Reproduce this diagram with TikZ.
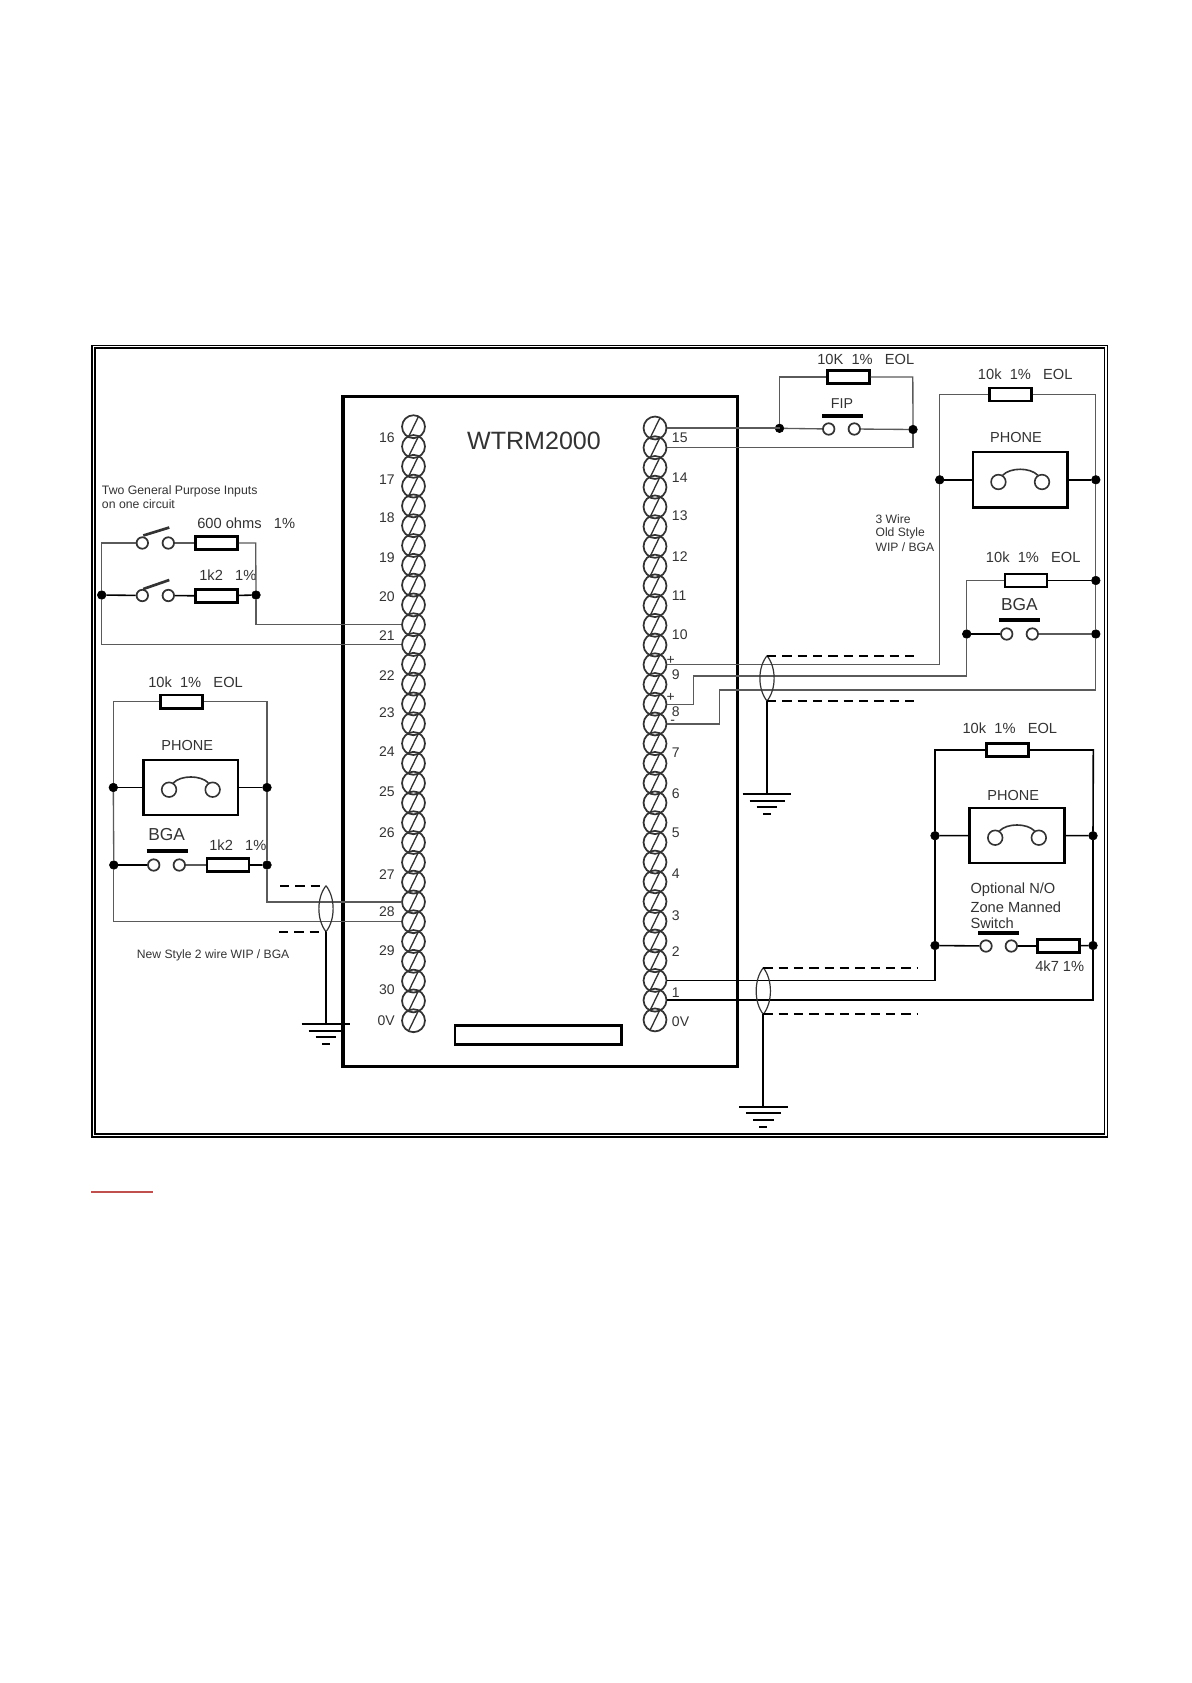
\documentclass[tikz,border=0pt]{standalone}
\usepackage{fontspec}
\setmainfont{Liberation Sans}
\usetikzlibrary{calc}
\definecolor{ink}{HTML}{333333}
\definecolor{wiregray}{HTML}{5A5A5A}
\definecolor{redline}{HTML}{C0504D}
\tikzset{
  wire/.style={draw=wiregray,line width=1pt},
  wireb/.style={draw=black,line width=1.2pt},
  heavy/.style={draw=black,line width=1.5pt},
  dashline/.style={draw=black,line width=1.3pt,dash pattern=on 7pt off 4.5pt},
  lensline/.style={draw=ink,line width=0.9pt},
  gndbar/.style={draw=black,line width=1.5pt},
  res/.style={draw=black,fill=white,line width=1.9pt,minimum width=31.5pt,minimum height=10pt,inner sep=0pt},
  box/.style={draw=black,line width=1.9pt,minimum width=71pt,minimum height=41.5pt,inner sep=0pt},
  dot/.style={circle,fill=black,draw=black,minimum size=6.5pt,inner sep=0pt},
  contact/.style={circle,draw=ink,fill=white,line width=1.3pt,minimum size=8.6pt,inner sep=0pt},
  phonec/.style={circle,draw=ink,line width=1.2pt,minimum size=11pt,inner sep=0pt},
  bar/.style={draw=black,line width=2.8pt},
  lever/.style={draw=ink,line width=2pt},
  screw/.style={circle,draw=ink,line width=1.3pt,minimum size=17.2pt,inner sep=0pt},
  slash/.style={draw=ink,line width=1pt},
  txt/.style={inner sep=0pt,text=ink,font=\fontsize{11}{12}\selectfont},
  small/.style={inner sep=0pt,text=ink,font=\fontsize{9.1}{10}\selectfont},
  num/.style={inner sep=0pt,text=ink,font=\fontsize{10.5}{12}\selectfont},
  big/.style={inner sep=0pt,text=ink,font=\fontsize{13}{14}\selectfont},
}
\newcommand{\lensat}[2]{%
  \draw[lensline] (#1) .. controls ($(#1)+(-9.5,12)$) and ($(#2)+(-9.5,-12)$) .. (#2)
    .. controls ($(#2)+(9.5,-12)$) and ($(#1)+(9.5,12)$) .. (#1);}
\newcommand{\gndat}[1]{%
  \draw[gndbar] ($(#1)+(-24.3,0)$) -- ($(#1)+(24.3,0)$);
  \draw[gndbar] ($(#1)+(-17.5,6.4)$) -- ($(#1)+(17.5,6.4)$);
  \draw[gndbar] ($(#1)+(-10.3,13)$) -- ($(#1)+(10.3,13)$);
  \draw[gndbar] ($(#1)+(-4,19.8)$) -- ($(#1)+(4,19.8)$);}
\newcommand{\phonesym}[1]{%
  \node[phonec] (#1a) at ($(#1)+(-21.8,2.2)$) {};
  \node[phonec] (#1b) at ($(#1)+(21.8,2.2)$) {};
  \draw[draw=ink,line width=1.2pt] ($(#1)+(-17.5,-4.6)$) .. controls ($(#1)+(-10,-12.5)$) and ($(#1)+(10,-12.5)$) .. ($(#1)+(17.5,-4.6)$);}
\begin{document}
\begin{tikzpicture}[x=0.75pt,y=-0.75pt]
\useasboundingbox (0,0) rectangle (1191,1683);
% frame
\coordinate (fo1) at (91.7,345.4); \coordinate (fo2) at (1107.3,1136.9);
\coordinate (fi1) at (94.8,348.2); \coordinate (fi2) at (1104.3,1133.9);
\draw[black,line width=1.2pt] (fo1) rectangle (fo2);
\draw[black,line width=1.1pt] (fi1) rectangle (fi2);
% module
\node[draw=black,line width=2.3pt,minimum width=295.7pt,minimum height=502.5pt,inner sep=0pt] (wtrm) at (540.15,731.7) {};
\node[inner sep=0pt,text=ink,font=\fontsize{18.8}{22}\selectfont] (title) at (534,441) {WTRM2000};
\node[draw=black,line width=2pt,minimum width=125pt,minimum height=13.9pt,inner sep=0pt] (slot) at (538.25,1035) {};
% terminals
\foreach \i in {0,...,30}{
  \node[screw] (L\i) at (413.5,{426.7+19.8*\i}) {};
  \draw[slash] ($(L\i)+(-5,10.3)$) -- ($(L\i)+(5,-10.3)$);
  \node[screw] (R\i) at (655,{428+19.73*\i}) {};
  \draw[slash] ($(R\i)+(-5,10.3)$) -- ($(R\i)+(5,-10.3)$);
}
\foreach \t/\y in {16/438,17/480,18/518,19/557.7,20/596.7,21/636,22/676,23/712.7,24/751.7,25/792,26/832.7,27/875,28/912,29/950.7,30/990,0V/1020.7}{
  \node[num,anchor=east] (ln\t) at (395,\y) {\t};
}
\foreach \t/\y in {15/438,14/477.7,13/515.7,12/556.7,11/595.7,10/635,9/675,8/712,7/753,6/794,5/832.7,4/874,3/915.7,2/951.7,1/993,0V/1021.7}{
  \node[num,anchor=west] (rn\t) at (671.7,\y) {\t};
}
\node[num] (plusnine) at (670.7,660.7) {+};
\node[num] (pluseight) at (670.7,697.7) {+};
\node[num] (minuseight) at (672.7,722) {-};

% ---- two general purpose inputs
\node[small,anchor=west,font=\fontsize{9.2}{10}\selectfont] (gp1) at (101.7,491) {Two General Purpose Inputs};
\node[small,anchor=west,font=\fontsize{9.2}{10}\selectfont] (gp2) at (101.7,504) {on one circuit};
\node[txt,anchor=west] (gp3) at (197,523) {600 ohms~~~1\%};
\node[txt,anchor=west] (gp4) at (199,575.7) {1k2~~~1\%};
\node[dot] (gj1) at (101.7,595) {};
\node[dot] (gj2) at (256,595) {};
\coordinate (gc1) at (101.7,543);
\coordinate (gc2) at (255.7,543);
\node[contact] (sw1a) at (142.3,543) {};
\node[contact] (sw1b) at (168.3,543) {};
\node[res] (r600) at (216.6,543) {};
\node[contact] (sw2a) at (142.3,595.5) {};
\node[contact] (sw2b) at (168.3,595.5) {};
\node[res] (r1k2a) at (216.6,596) {};
\draw[lever] ($(sw1a)+(1,-7.5)$) -- ($(sw1a)+(27,-15.5)$);
\draw[lever] ($(sw2a)+(1,-6.5)$) -- ($(sw2a)+(27,-15.5)$);
\draw[wire] (gj1) -- (gc1) -- (sw1a);
\draw[wire] (sw1b) -- (r600);
\draw[wire] (r600) -- (gc2) -- (gj2);
\draw[wireb] (gj1) -- (sw2a);
\draw[wireb] (sw2b) -- (r1k2a) -- (gj2);
\draw[wire] (gj2) -- (gj2 |- L10) -- (L10.west);
\draw[wire] (gj1) -- (gj1 |- L11) -- (L11.west);

% ---- new style left circuit
\node[txt,anchor=west] (lb1) at (148,682) {10k~~1\%~~~EOL};
\node[res] (r10kL) at (181.6,701.7) {};
\coordinate (lc1) at (113.3,701.7);
\coordinate (lc2) at (267,701.7);
\node[txt,font=\fontsize{10.9}{12}\selectfont] (phL) at (187.3,745.3) {PHONE};
\node[box] (boxL) at (190.85,787.5) {};
\phonesym{boxL}
\node[dot] (dL1) at (113.3,787.5) {};
\node[dot] (dL2) at (267,787.5) {};
\node[big] (bgaL) at (166.7,835) {BGA};
\coordinate (bgaLa) at (146.7,851); \coordinate (bgaLb) at (187.7,851);
\draw[bar] (bgaLa) -- (bgaLb);
\node[dot] (dL3) at (113.8,865) {};
\node[dot] (dL4) at (267,865) {};
\node[contact] (cLa) at (153.7,865) {};
\node[contact] (cLb) at (179.3,865) {};
\node[res] (r1k2b) at (228,865) {};
\node[txt,anchor=west] (lb2) at (209,845) {1k2~~~1\%};
\draw[wire] (r10kL) -- (lc1) -- (dL1);
\draw[wire] (r10kL) -- (lc2) -- (dL2);
\draw[wire] (dL1) -- (dL3);
\draw[wire] (dL2) -- (dL4);
\draw[wireb] (dL1) -- (boxL);
\draw[wireb] (boxL) -- (dL2);
\draw[wireb] (dL3) -- (cLa);
\draw[wire] (cLb) -- (r1k2b);
\draw[wireb] (r1k2b) -- (dL4);
\draw[wire] (dL4) -- (dL4 |- L24) -- (L24.west);
\draw[wire] (dL3) -- (dL3 |- L25) -- (L25.west);
\coordinate (sLt) at (326,885.7); \coordinate (sLb) at (326,931.7);
\coordinate (dLt) at (280,885.7); \coordinate (dLb) at (279,931.7);
\coordinate (gL) at (326,1024.3);
\lensat{sLt}{sLb}
\draw[dashline] (dLt) -- (sLt);
\draw[dashline] (dLb) -- (sLb);
\draw[heavy] (sLb) -- (gL);
\gndat{gL}
\node[small,anchor=west] (lb3) at (136.7,955) {New Style 2 wire WIP / BGA};

% ---- FIP
\node[txt,anchor=west] (fl1) at (817,359) {10K~~1\%~~~EOL};
\node[res] (r10kF) at (848.4,377) {};
\coordinate (fc1) at (779.5,377); \coordinate (fc2) at (912.8,377);
\node[txt,font=\fontsize{10.7}{12}\selectfont] (fipl) at (842,404) {FIP};
\coordinate (fba) at (822.3,416.3); \coordinate (fbb) at (862.7,416.3);
\draw[bar] (fba) -- (fbb);
\node[dot] (fd1) at (779.5,428.3) {};
\node[dot] (fd2) at (913,429.5) {};
\node[contact] (fca) at (828.7,429) {};
\node[contact] (fcb) at (854.3,429) {};
\draw[wire] (r10kF) -- (fc1) -- (fd1);
\draw[wire] (r10kF) -- (fc2) -- (fd2);
\draw[wire] (R0.east) -- (R0.east -| fd1);
\draw[wire] (fd1) -- (fca);
\draw[wire] (fcb) -- (fd2);
\draw[wire] (fd2) -- (fd2 |- R1) -- (R1.east);

% ---- 3 wire old style
\node[txt,anchor=west] (ol1) at (977.7,374) {10k~~1\%~~~EOL};
\node[res] (r10kO) at (1010.5,394.5) {};
\coordinate (oc1) at (939.7,394.5); \coordinate (oc2) at (1095.8,394.5);
\node[txt,font=\fontsize{10.9}{12}\selectfont] (phO) at (1016,437.3) {PHONE};
\node[box] (boxO) at (1020.2,479.8) {};
\phonesym{boxO}
\node[dot] (oD1) at (939.7,479.8) {};
\node[dot] (oD2) at (1095.8,479.8) {};
\node[small,anchor=west] (ot1) at (875.3,519.3) {3 Wire};
\node[small,anchor=west] (ot2) at (875.3,533.2) {Old Style};
\node[small,anchor=west] (ot3) at (875.3,546.7) {WIP / BGA};
\node[txt,anchor=west] (ol2) at (985.7,557.7) {10k~~1\%~~~EOL};
\node[res] (r10kB) at (1025.8,580.5) {};
\coordinate (oc3) at (966.7,580.5);
\node[dot] (oD3) at (1095.8,580.5) {};
\node[big] (bgaO) at (1019.3,605) {BGA};
\coordinate (oba) at (999.3,620.3); \coordinate (obb) at (1040,620.3);
\draw[bar] (oba) -- (obb);
\node[dot] (oD4) at (966.7,634) {};
\node[dot] (oD5) at (1095.8,634) {};
\node[contact] (oca) at (1006.7,634) {};
\node[contact] (ocb) at (1032.3,634) {};
\draw[wire] (r10kO) -- (oc1) -- (oD1);
\draw[wire] (r10kO) -- (oc2) -- (oD2);
\draw[wireb] (oD1) -- (boxO);
\draw[wireb] (boxO) -- (oD2);
\draw[wire] (oD2) -- (oD3);
\draw[wire] (oD3) -- (oD5);
\draw[wire] (r10kB) -- (oc3) -- (oD4);
\draw[wireb] (r10kB) -- (oD3);
\draw[wireb] (oD4) -- (oca);
\draw[wire] (ocb) -- (oD5);
\draw[wire] (R12.east) -- (R12.east -| oD1) -- (oD1);
\coordinate (w2a) at (693.3,704); \coordinate (w2b) at (693.3,676);
\draw[wire] (R14.east) -- (w2a |- R14.east) -- (w2b) -- (w2b -| oD4) -- (oD4);
\coordinate (w3a) at (719.3,690);
\draw[wire] (R15.east) -- (w3a |- R15.east) -- (w3a) -- (w3a -| oD5) -- (oD5);
\coordinate (sOt) at (767,655.7); \coordinate (sOb) at (767,701);
\coordinate (dOt) at (920,655.7); \coordinate (dOb) at (920,701);
\coordinate (gO) at (767,794.3);
\lensat{sOt}{sOb}
\draw[dashline] (sOt) -- (dOt);
\draw[dashline] (sOb) -- (dOb);
\draw[heavy] (sOb) -- (gO);
\gndat{gO}

% ---- bottom right
\node[txt,anchor=west] (bl1) at (962.3,728.3) {10k~~1\%~~~EOL};
\node[res] (r10kZ) at (1007.3,750) {};
\coordinate (bc1) at (935,750); \coordinate (bc2) at (1093.3,750);
\node[txt,font=\fontsize{10.9}{12}\selectfont] (phZ) at (1013.3,795.7) {PHONE};
\node[box] (boxZ) at (1017,835.5) {};
\phonesym{boxZ}
\node[dot] (zD1) at (935,835.7) {};
\node[dot] (zD2) at (1093,835.7) {};
\node[txt,anchor=west] (zt1) at (970.3,890) {Optional N/O};
\node[txt,anchor=west] (zt2) at (970.3,907.3) {Zone Manned};
\node[txt,anchor=west] (zt3) at (970.3,923.3) {Switch};
\coordinate (zba) at (978.3,933); \coordinate (zbb) at (1019.3,933);
\draw[bar] (zba) -- (zbb);
\node[dot] (zD3) at (935,945.5) {};
\node[dot] (zD4) at (1093,945.5) {};
\node[contact] (zca) at (986,946) {};
\node[contact] (zcb) at (1011.3,946) {};
\node[res] (r4k7) at (1058.7,946) {};
\node[txt,anchor=west] (zl4) at (1035,966) {4k7 1\%};
\draw[wireb] (r10kZ) -- (bc1) -- (zD1);
\draw[wireb] (r10kZ) -- (bc2) -- (zD2);
\draw[wireb] (zD1) -- (boxZ);
\draw[wireb] (boxZ) -- (zD2);
\draw[wireb] (zD1) -- (zD3);
\draw[wireb] (zD2) -- (zD4);
\draw[wireb] (zD3) -- (zca);
\draw[wireb] (zcb) -- (r4k7);
\draw[wireb] (r4k7) -- (zD4);
\draw[wireb] (zD3) -- (zD3 |- R28) -- (R28.east);
\draw[wireb] (zD4) -- (zD4 |- R29) -- (R29.east);
\coordinate (sZt) at (763.3,967.7); \coordinate (sZb) at (763.3,1014.3);
\coordinate (dZt) at (916.7,967.7); \coordinate (dZb) at (916.7,1014.3);
\coordinate (gZ) at (763.3,1106.7);
\lensat{sZt}{sZb}
\draw[dashline] (sZt) -- (dZt);
\draw[dashline] (sZb) -- (dZb);
\draw[heavy] (sZb) -- (gZ);
\gndat{gZ}

% ---- red rule
\coordinate (ra) at (91,1191.7); \coordinate (rb) at (153,1191.7);
\draw[redline,line width=1.5pt] (ra) -- (rb);
\end{tikzpicture}
\end{document}
